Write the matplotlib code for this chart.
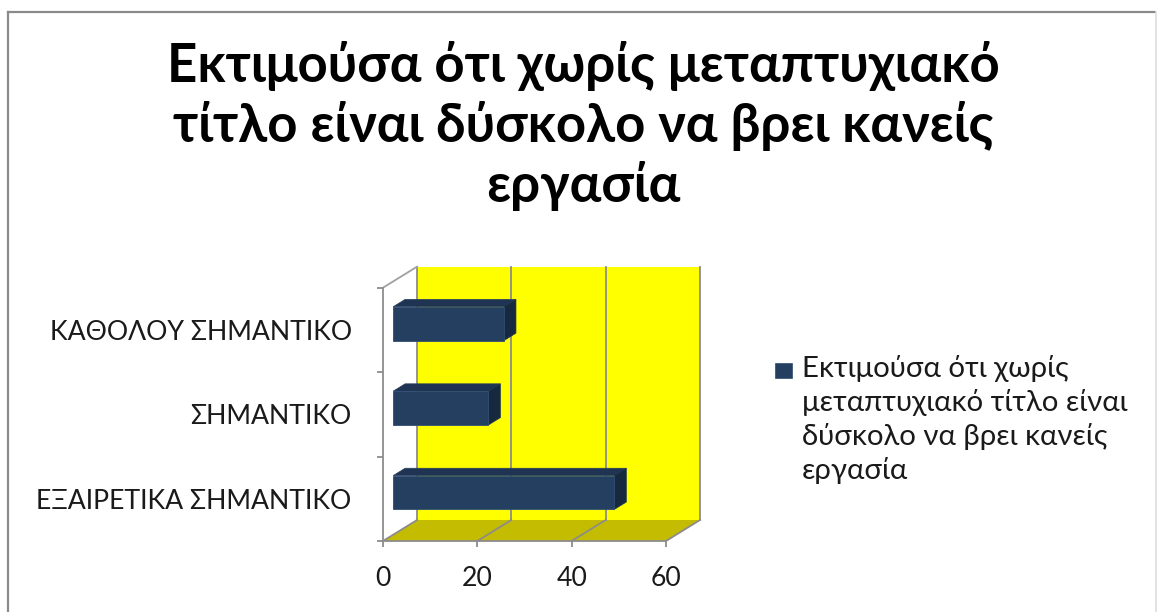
import matplotlib
matplotlib.use('Agg')
import matplotlib.pyplot as plt
from matplotlib import font_manager
from matplotlib.ft2font import FT2Font
from matplotlib.patches import Rectangle, Polygon
from matplotlib.lines import Line2D

# ---------------- data ----------------
categories = ['ΕΞΑΙΡΕΤΙΚΑ ΣΗΜΑΝΤΙΚΟ', 'ΣΗΜΑΝΤΙΚΟ', 'ΚΑΘΟΛΟΥ ΣΗΜΑΝΤΙΚΟ']
values = [46.9, 20.2, 23.5]
title_lines = ['Εκτιμούσα ότι χωρίς μεταπτυχιακό',
               'τίτλο είναι δύσκολο να βρει κανείς',
               'εργασία']
legend_lines = ['Εκτιμούσα ότι χωρίς', 'μεταπτυχιακό τίτλο είναι',
                'δύσκολο να βρει κανείς', 'εργασία']
xticks = [0, 20, 40, 60]


def pick_family():
    for fam in ['Lato', 'Open Sans', 'Noto Sans']:
        try:
            path = font_manager.findfont(font_manager.FontProperties(family=fam),
                                         fallback_to_default=False)
            f = FT2Font(path)
            if all(f.get_char_index(ord(c)) for c in 'ΕΣΞωύςλ'):
                return fam
        except Exception:
            pass
    return 'DejaVu Sans'


FAM = pick_family()
FAMS = [FAM, 'DejaVu Sans']

W, H = 1157, 612
fig = plt.figure(figsize=(W / 100, H / 100), dpi=100)
renderer = fig.canvas.get_renderer()


def fx(x):
    return x / W


def fy(y):
    return 1 - y / H


def fit_size(s, target, weight='normal', base=20.0):
    t = fig.text(0, 0, s, fontsize=base, family=FAMS, weight=weight)
    w = t.get_window_extent(renderer).width
    t.remove()
    return base * target / w


# frame of the chart area
fig.add_artist(Line2D([fx(8), fx(8)], [fy(12), 0], color='#8a8a8a', lw=1.6))
fig.add_artist(Line2D([fx(8), fx(1155)], [fy(12), fy(12)], color='#8a8a8a', lw=1.6))
fig.add_artist(Line2D([fx(1155.5), fx(1155.5)], [fy(12), 0], color='#dddddd', lw=1.2))

# ---------------- axes (front plane) ----------------
x0p, x1p, ytop, ybot = 383, 666, 287.7, 541
ax = fig.add_axes([fx(x0p), fy(ybot), (x1p - x0p) / W, (ybot - ytop) / H])
ax.set_xlim(0, 60)
ax.set_ylim(-0.5, 2.5)
ax.patch.set_visible(False)

# depth vector in data units (34 px right, 21 px up)
DX = 34 * 60 / (x1p - x0p)
DY = 21 * 3 / (ybot - ytop)
grid_c = '#8c8c8c'

# floor
ax.add_patch(Polygon([(0, -0.5), (60, -0.5), (60 + DX, -0.5 + DY), (DX, -0.5 + DY)],
                     closed=True, facecolor='#C4BC00', edgecolor='none',
                     clip_on=False, zorder=1))
# back wall
ax.add_patch(Rectangle((DX, -0.5 + DY), 60, 3, facecolor='#FFFF00',
                       edgecolor='none', clip_on=False, zorder=1))
# grid lines on wall and floor
for t in xticks:
    ax.plot([t + DX, t + DX], [-0.5 + DY, 2.5 + DY], color=grid_c, lw=1.3,
            clip_on=False, zorder=2)
    ax.plot([t, t + DX], [-0.5, -0.5 + DY], color=grid_c, lw=1.3,
            clip_on=False, zorder=2)
# left wall top edge
ax.plot([0, DX], [2.5, 2.5 + DY], color='#a0a0a0', lw=1.3, clip_on=False, zorder=2)

# ---------------- bars ----------------
f0, f1 = 0.30, 0.35   # front-face depth, bar thickness (fraction of depth)
bh = 0.40
ypos = list(range(len(categories)))
bx0 = f0 * DX
ax.barh([y + f0 * DY for y in ypos], values, left=bx0, height=bh,
        color='#243F60', edgecolor='#2f4d73', linewidth=0.6, zorder=5)
for y, v in zip(ypos, values):
    yc = y + f0 * DY
    yt, yb = yc + bh / 2, yc - bh / 2
    ddx, ddy = f1 * DX, f1 * DY
    ax.add_patch(Polygon([(bx0, yt), (bx0 + v, yt), (bx0 + v + ddx, yt + ddy),
                          (bx0 + ddx, yt + ddy)], closed=True,
                         facecolor='#1E3452', edgecolor='#263f60', lw=0.5,
                         zorder=4, clip_on=False))
    ax.add_patch(Polygon([(bx0 + v, yb), (bx0 + v, yt), (bx0 + v + ddx, yt + ddy),
                          (bx0 + v + ddx, yb + ddy)], closed=True,
                         facecolor='#17293F', edgecolor='#1d3450', lw=0.5,
                         zorder=4, clip_on=False))

# ---------------- axis lines, ticks, labels ----------------
for s in ['top', 'right']:
    ax.spines[s].set_visible(False)
for s in ['left', 'bottom']:
    ax.spines[s].set_color(grid_c)
    ax.spines[s].set_linewidth(1.3)
    ax.spines[s].set_zorder(6)

lab_fs = fit_size('ΚΑΘΟΛΟΥ ΣΗΜΑΝΤΙΚΟ', 301)

ax.set_yticks([-0.5, 0.5, 1.5, 2.5])
ax.set_yticklabels([])
ax.set_yticks(ypos, minor=True)
ax.set_yticklabels(categories, minor=True, fontsize=lab_fs, family=FAMS,
                   color='#1a1a1a')
ax.tick_params(axis='y', which='major', length=6 * 0.72, width=1.3, color=grid_c)
ax.tick_params(axis='y', which='minor', length=0, pad=(x0p - 351.7) * 0.72)

ax.set_xticks(xticks)
ax.set_xticklabels([str(t) for t in xticks], fontsize=lab_fs, family=FAMS,
                   color='#1a1a1a')
ax.tick_params(axis='x', length=6 * 0.72, width=1.3, color=grid_c, pad=14)

# ---------------- title ----------------
t_fs = fit_size(title_lines[0], 832, weight='bold')
for line, base in zip(title_lines, [81.7, 141.7, 201.7]):
    fig.text(fx(583), fy(base), line, ha='center', va='baseline', fontsize=t_fs,
             weight='bold', family=FAMS, color='black')

# ---------------- legend ----------------
fig.add_artist(Rectangle((fx(775), fy(378)), 17 / W, 15 / H, transform=fig.transFigure,
                         facecolor='#243F60', edgecolor='#2f4d73', lw=0.5))
leg_fs = fit_size(legend_lines[2], 305)
for line, base in zip(legend_lines, [377, 411, 445, 479]):
    fig.text(fx(801.7), fy(base), line, ha='left', va='baseline', fontsize=leg_fs,
             family=FAMS, color='#1a1a1a')

fig.savefig('out.png', dpi=100, facecolor='white')
